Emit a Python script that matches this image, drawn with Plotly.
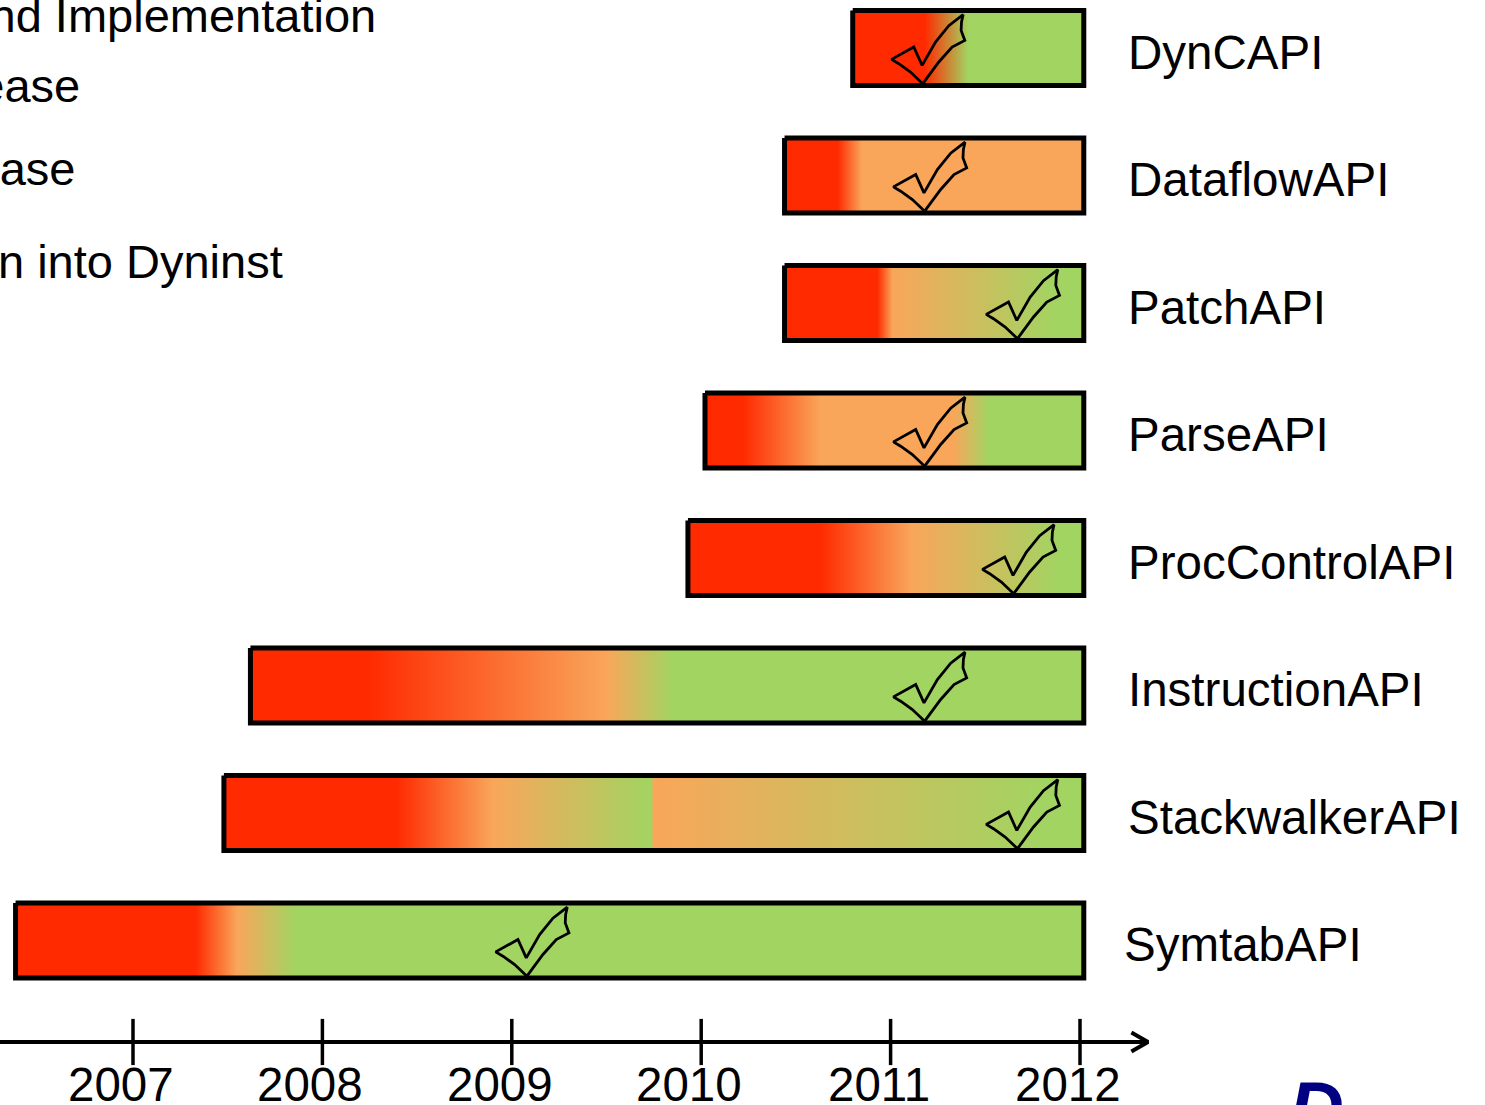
import plotly.graph_objects as go

# ---------------- data ----------------
components = ["DynCAPI", "DataflowAPI", "PatchAPI", "ParseAPI",
              "ProcControlAPI", "InstructionAPI", "StackwalkerAPI", "SymtabAPI"]
start_year = [2010.80, 2010.44, 2010.44, 2010.02, 2009.93, 2007.62, 2007.48, 2006.38]
end_year = [2012.02, 2012.02, 2012.02, 2012.02, 2012.02, 2012.02, 2012.02, 2012.02]

# colour stops along each bar: (year, phase)
phase_stops = [
    [(2011.18, "design"), (2011.41, "release")],
    [(2010.72, "design"), (2010.85, "beta")],
    [(2010.93, "design"), (2011.01, "beta"), (2011.87, "release")],
    [(2010.22, "design"), (2010.63, "beta"), (2011.33, "beta"), (2011.52, "release")],
    [(2010.63, "design"), (2011.11, "beta"), (2011.89, "release")],
    [(2008.24, "design"), (2009.50, "beta"), (2009.85, "release")],
    [(2008.39, "design"), (2008.90, "beta"), (2009.74, "release"),
     (2009.745, "beta"), (2011.82, "release")],
    [(2007.33, "design"), (2007.55, "beta"), (2007.86, "release")],
]
integration_year = [2011.17, 2011.18, 2011.67, 2011.18, 2011.65, 2011.18, 2011.67, 2009.08]

tick_years = [2007, 2008, 2009, 2010, 2011, 2012]
tick_labels = ["2007", "2008", "2009", "2010", "2011", "2012"]

legend_labels = ["Design and Implementation", "Beta Release", "Release",
                 "Integration into Dyninst"]

# ---------------- style / layout ----------------
PHASE_COLOR = {"design": "#FF2A00", "beta": "#F9A65A", "release": "#A2D462"}
FONT = "Liberation Sans, Arial, sans-serif"
W, H = 1485, 1105
PX_PER_YEAR = 189.4
X0_PX = 133          # pixel of 2007
ROW0_PX, ROW_PX = 48, 127.5
BAR_HALF = 37.5 / ROW_PX

def px_to_x(p):
    return 2007 + (p - X0_PX) / PX_PER_YEAR

def px_to_y(p):
    return (p - ROW0_PX) / ROW_PX

# check-mark glyph outline (pixel offsets from its bottom tip)
CHECK_PX = [(0, 0), (-12.3, -11.7), (-24, -20), (-31.3, -24.3), (-9, -36.7),
            (-0.7, -18.3), (12.7, -41.7), (26, -58), (40.3, -69), (38.7, -61.7),
            (38.3, -53.3), (42, -43.3), (29.3, -36.7), (16, -21.7), (0, 0)]
CHECK_BASE = 35.7

fig = go.Figure()

for i, name in enumerate(components):
    x0, x1 = start_year[i], end_year[i]
    stops = phase_stops[i]
    cs = [[0.0, PHASE_COLOR[stops[0][1]]]]
    for yr, ph in stops:
        t = min(max((yr - x0) / (x1 - x0), 0.0), 1.0)
        if t > cs[-1][0]:
            cs.append([t, PHASE_COLOR[ph]])
    if cs[-1][0] < 1.0:
        cs.append([1.0, PHASE_COLOR[stops[-1][1]]])
    fig.add_trace(go.Scatter(
        x=[x0, x1, x1, x0, x0],
        y=[i - BAR_HALF, i - BAR_HALF, i + BAR_HALF, i + BAR_HALF, i - BAR_HALF],
        mode="lines", fill="toself",
        fillgradient=dict(type="horizontal", colorscale=cs, start=x0, stop=x1),
        line=dict(color="black", width=5),
        name=name, showlegend=False, hoverinfo="skip"))

for i, yr in enumerate(integration_year):
    fig.add_trace(go.Scatter(
        x=[yr + dx / PX_PER_YEAR for dx, dy in CHECK_PX],
        y=[i + (CHECK_BASE + dy) / ROW_PX for dx, dy in CHECK_PX],
        mode="lines", line=dict(color="black", width=2.8),
        showlegend=False, hoverinfo="skip"))

# time axis with arrow
AXIS_Y = px_to_y(1042)
AXIS_END = px_to_x(1148)
x_min, x_max = px_to_x(0), px_to_x(W)
fig.add_trace(go.Scatter(x=[x_min, AXIS_END], y=[AXIS_Y, AXIS_Y], mode="lines",
                         line=dict(color="black", width=4),
                         showlegend=False, hoverinfo="skip"))
fig.add_trace(go.Scatter(
    x=[AXIS_END - 16.6 / PX_PER_YEAR, AXIS_END, AXIS_END - 16.6 / PX_PER_YEAR],
    y=[AXIS_Y - 9.4 / ROW_PX, AXIS_Y, AXIS_Y + 9.4 / ROW_PX],
    mode="lines", line=dict(color="black", width=4),
    showlegend=False, hoverinfo="skip"))
fig.add_trace(go.Scatter(
    x=tick_years, y=[AXIS_Y] * len(tick_years), mode="markers",
    marker=dict(symbol="line-ns", size=33, line=dict(color="black", width=3.5)),
    showlegend=False, hoverinfo="skip"))

annotations = []
for i, name in enumerate(components):
    annotations.append(dict(
        x=px_to_x(1122 if name == "SymtabAPI" else 1126), y=i, xref="x", yref="y",
        text=name, showarrow=False, xanchor="left", yanchor="middle", yshift=-4,
        font=dict(family=FONT, size=47.5, color="black")))
for yr, lab in zip(tick_years, tick_labels):
    annotations.append(dict(
        x=yr, y=px_to_y(1084), xref="x", yref="y", xshift=-12,
        text=lab, showarrow=False, xanchor="center", yanchor="middle",
        font=dict(family=FONT, size=47.5, color="black")))

LEGEND_RIGHT_PX = [378, 82, 77, 285]
LEGEND_Y_PX = [15, 85, 168, 261]
for lab, rx, ry in zip(legend_labels, LEGEND_RIGHT_PX, LEGEND_Y_PX):
    annotations.append(dict(
        x=px_to_x(rx), y=px_to_y(ry), xref="x", yref="y",
        text=lab, showarrow=False, xanchor="right", yanchor="middle",
        font=dict(family=FONT, size=47, color="black")))

annotations.append(dict(
    x=1316 / W, y=1 - 1108 / H, xref="paper", yref="paper", text="D",
    showarrow=False, xanchor="center", yanchor="middle",
    font=dict(family=FONT, size=76, color="#000080", weight="bold", style="italic")))

fig.update_layout(
    width=W, height=H,
    margin=dict(l=0, r=0, t=0, b=0),
    paper_bgcolor="white", plot_bgcolor="white",
    xaxis=dict(range=[x_min, x_max], visible=False, fixedrange=True),
    yaxis=dict(range=[px_to_y(H), px_to_y(0)], visible=False, fixedrange=True),
    annotations=annotations,
    showlegend=False,
)

fig.write_html("out.html", config={"displayModeBar": False},
               post_script="document.body.style.margin='0';document.body.style.overflow='hidden';")
